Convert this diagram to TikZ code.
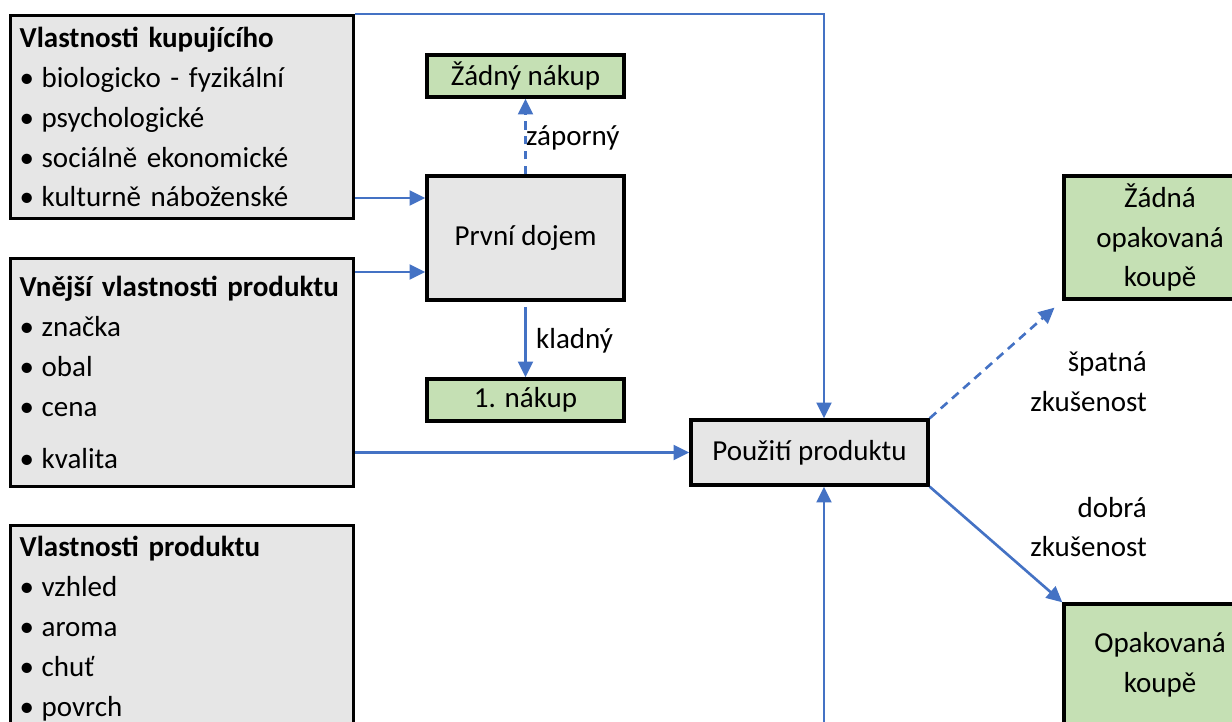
\documentclass[tikz,border=0pt]{standalone}
\usepackage{fontspec}
\setmainfont{Carlito}
\usetikzlibrary{arrows.meta}
\definecolor{modra}{HTML}{4472C4}
\definecolor{seda}{HTML}{E6E6E6}
\definecolor{zelena}{HTML}{C5E0B4}
\newcommand{\bod}[1]{\makebox[0.44cm][l]{\textbullet}#1}

\begin{document}
\begin{tikzpicture}[x=0.02cm,y=-0.02cm,>={Triangle[length=9pt,width=8.5pt]},font=\fontsize{16.5}{22.7}\selectfont]
\tikzstyle{box}=[draw,line width=1.9pt,fill=seda,inner sep=0pt]
\tikzstyle{vysledek}=[box,fill=zelena]
\tikzstyle{seznam}=[box,anchor=north west,minimum width=6.86cm,text width=6.5cm,align=left]
\tikzstyle{sipka}=[->,modra,line width=1.5pt]
\clip (0,0) rectangle (1232,722);
% vlastnosti vlevo
\node[seznam,minimum height=4.06cm] (kupujici) at (9,14) {{\bfseries Vlastnosti kupujícího}\\ \bod{biologicko - fyzikální}\\ \bod{psychologické}\\ \bod{sociálně ekonomické}\\ \bod{kulturně náboženské}};
\node[seznam,minimum height=4.56cm] (vnejsi) at (9,257) {{\bfseries Vnější vlastnosti produktu}\\ \bod{značka}\\ \bod{obal}\\ \bod{cena}\\[0.24cm] \bod{kvalita}};
\node[seznam,minimum height=4.12cm] (produkt) at (9,524) {{\bfseries Vlastnosti produktu}\\ \bod{vzhled}\\ \bod{aroma}\\ \bod{chuť}\\ \bod{povrch}};
% prvni dojem
\node[vysledek,minimum width=3.94cm,minimum height=0.84cm] (zadny) at (525.5,76) {Žádný nákup};
\node[box,minimum width=3.94cm,minimum height=2.48cm] (dojem) at (525.5,238) {První dojem};
\node[vysledek,minimum width=3.94cm,minimum height=0.84cm] (nakup) at (525.5,400) {1. nákup};
% pouziti a opakovana koupe
\node[box,minimum width=4.74cm,minimum height=1.3cm] (pouziti) at (809.5,452.5) {Použití produktu};
\node[vysledek,minimum width=3.84cm,minimum height=2.46cm,align=center] (zadnaopak) at (1160,237.5) {Žádná\\opakovaná\\koupě};
\node[vysledek,minimum width=3.84cm,minimum height=2.44cm,align=center] (opak) at (1160,665) {Opakovaná\\koupě};
\node[anchor=west] (zaporny) at (520,138) {záporný};
\node[anchor=west] (kladny) at (530,341) {kladný};
\node[anchor=east,align=right] (spatna) at (1153,382) {špatná\\zkušenost};
\node[anchor=east,align=right] (dobra) at (1153,527) {dobrá\\zkušenost};
% sipky
\coordinate (horni) at (824,14);
\coordinate (dole) at (824,740);
\draw[sipka] (kupujici.east |- 0,198) -- (dojem.west |- 0,198);
\draw[sipka] (vnejsi.east |- 0,272) -- (dojem.west |- 0,272);
\draw[sipka] (kupujici.north east) -- (horni) -- (horni |- pouziti.north);
\draw[sipka] (vnejsi.east |- pouziti.west) -- (pouziti.west);
\draw[sipka,dash pattern=on 5pt off 3.5pt] (dojem.north) -- (zadny.south);
\draw[sipka,shorten <=3pt] (dojem.south) -- (nakup.north);
\draw[sipka] (dole) -- (dole |- pouziti.south);
\draw[sipka,dash pattern=on 5pt off 3.5pt,shorten >=6pt] (pouziti.north east) -- (zadnaopak.south west);
\draw[sipka] (pouziti.south east) -- (opak.north west);
\end{tikzpicture}
\end{document}
